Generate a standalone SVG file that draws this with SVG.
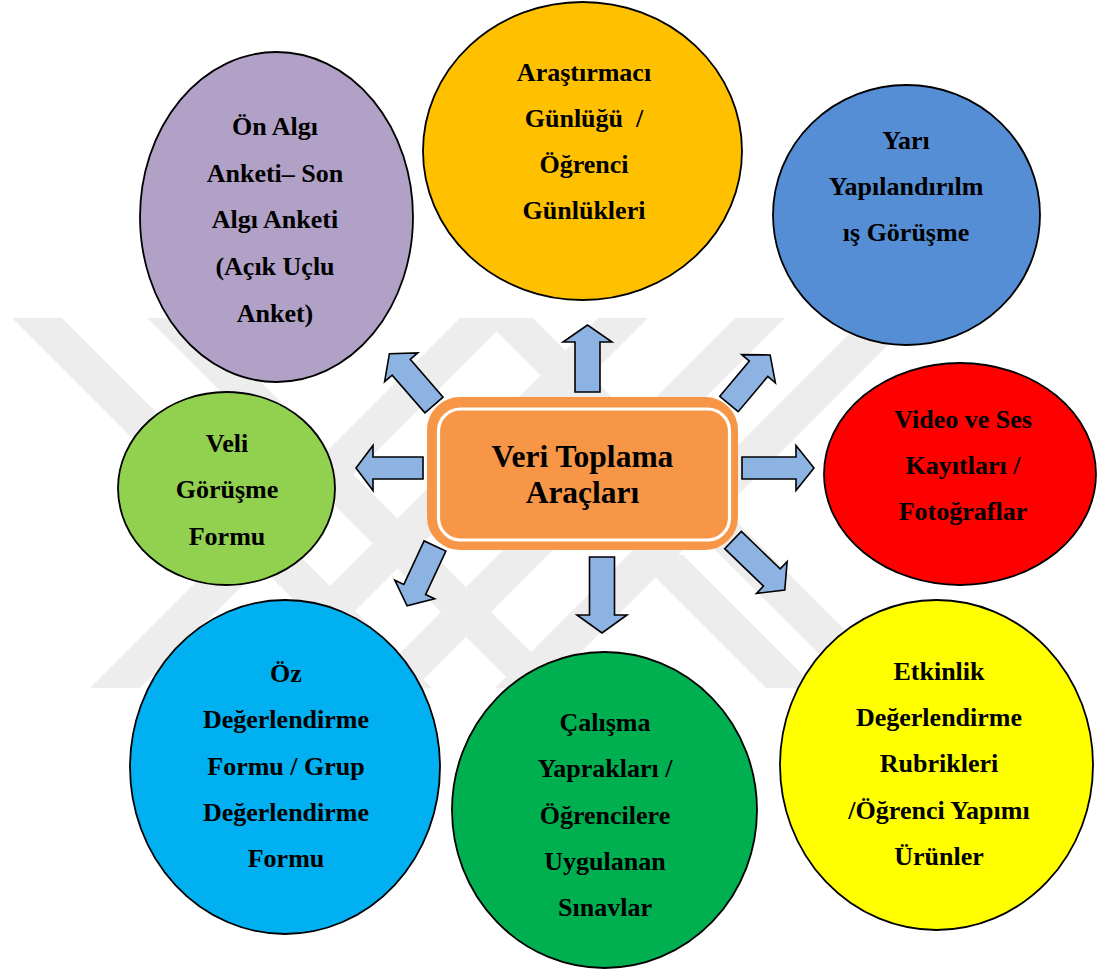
<svg xmlns="http://www.w3.org/2000/svg" width="1099" height="971" viewBox="0 0 1099 971">
<style>
.wm{fill:#ededed}
.node{stroke:#000;stroke-width:1.8}
.t{font-family:"Liberation Serif","Times New Roman",serif;font-weight:bold;font-size:26px;fill:#000;text-anchor:middle}
.title{font-family:"Liberation Serif","Times New Roman",serif;font-weight:bold;font-size:31.5px;fill:#000;text-anchor:middle}
.arr{fill:#8DB3E2;stroke:#000;stroke-width:1.6;stroke-linejoin:miter}
</style>
<defs>
<clipPath id="wmclip"><rect x="0" y="318" width="1099" height="370"/></clipPath>
</defs>
<rect x="0" y="0" width="1099" height="971" fill="#fff"/>
<g id="watermark" clip-path="url(#wmclip)">
<polygon class="wm" points="12,318 62,318 432,688 382,688"/>
<polygon class="wm" points="147,318 197,318 567,688 517,688"/>
<polygon class="wm" points="483,318 533,318 903,688 853,688"/>
<polygon class="wm" points="460,318 510,318 140,688 90,688"/>
<polygon class="wm" points="598,318 648,318 278,688 228,688"/>
<polygon class="wm" points="735,318 785,318 415,688 365,688"/>
<polygon class="wm" points="865,318 915,318 545,688 495,688"/>
<polygon class="wm" points="633,555 683,555 816,688 766,688"/>
</g>
<g id="n-purple">
<ellipse class="node" cx="276.5" cy="217" rx="136.5" ry="165" fill="#B2A1C7"/>
<text class="t" x="275" y="135">Ön Algı</text>
<text class="t" x="275" y="182">Anketi– Son</text>
<text class="t" x="275" y="228">Algı Anketi</text>
<text class="t" x="275" y="275">(Açık Uçlu</text>
<text class="t" x="275" y="322">Anket)</text>
</g>
<g id="n-gold">
<ellipse class="node" cx="582.5" cy="151" rx="159.5" ry="149" fill="#FFC000"/>
<text class="t" x="584" y="81">Araştırmacı</text>
<text class="t" x="584" y="127" xml:space="preserve">Günlüğü  /</text>
<text class="t" x="584" y="173">Öğrenci</text>
<text class="t" x="584" y="219">Günlükleri</text>
</g>
<g id="n-blue">
<ellipse class="node" cx="906.5" cy="215" rx="133.5" ry="130" fill="#558ED5"/>
<text class="t" x="906" y="149">Yarı</text>
<text class="t" x="906" y="195">Yapılandırılm</text>
<text class="t" x="906" y="241">ış Görüşme</text>
</g>
<g id="n-red">
<ellipse class="node" cx="960" cy="474" rx="136" ry="111" fill="#FF0000"/>
<text class="t" x="963" y="428">Video ve Ses</text>
<text class="t" x="963" y="474">Kayıtları /</text>
<text class="t" x="963" y="520">Fotoğraflar</text>
</g>
<g id="n-lightgreen">
<ellipse class="node" cx="226.5" cy="488.5" rx="108.5" ry="96.5" fill="#92D050"/>
<text class="t" x="227" y="452">Veli</text>
<text class="t" x="227" y="498">Görüşme</text>
<text class="t" x="227" y="545">Formu</text>
</g>
<g id="n-cyan">
<ellipse class="node" cx="285" cy="767" rx="155" ry="167" fill="#00B0F0"/>
<text class="t" x="286" y="682">Öz</text>
<text class="t" x="286" y="728">Değerlendirme</text>
<text class="t" x="286" y="775">Formu / Grup</text>
<text class="t" x="286" y="821">Değerlendirme</text>
<text class="t" x="286" y="867">Formu</text>
</g>
<g id="n-green">
<ellipse class="node" cx="604.5" cy="810" rx="152.5" ry="158" fill="#00B050"/>
<text class="t" x="605" y="731">Çalışma</text>
<text class="t" x="605" y="777">Yaprakları /</text>
<text class="t" x="605" y="824">Öğrencilere</text>
<text class="t" x="605" y="870">Uygulanan</text>
<text class="t" x="605" y="916">Sınavlar</text>
</g>
<g id="n-yellow">
<ellipse class="node" cx="936.5" cy="765" rx="156.5" ry="165" fill="#FFFF00"/>
<text class="t" x="939" y="680">Etkinlik</text>
<text class="t" x="939" y="726">Değerlendirme</text>
<text class="t" x="939" y="772">Rubrikleri</text>
<text class="t" x="939" y="819">/Öğrenci Yapımı</text>
<text class="t" x="939" y="865">Ürünler</text>
</g>
<g id="n-center">
<rect x="432" y="402" width="301" height="143" rx="28" fill="#F79646" stroke="#F79646" stroke-width="10"/>
<rect x="438.5" y="409" width="291" height="131" rx="22" fill="none" stroke="#fff" stroke-width="3.2"/>
<text class="title" x="582.5" y="467">Veri Toplama</text>
<text class="title" x="582.5" y="503">Araçları</text>
</g>
<g id="connectors">
<polygon class="arr" transform="translate(587.5,392) rotate(-90)" points="0,-12.5 50,-12.5 50,-24.5 67,0 50,24.5 50,12.5 0,12.5"/>
<polygon class="arr" transform="translate(602,557) rotate(90)" points="0,-12.5 58,-12.5 58,-25 76,0 58,25 58,12.5 0,12.5"/>
<polygon class="arr" transform="translate(423,468) rotate(180)" points="0,-11 50,-11 50,-22.5 67,0 50,22.5 50,11 0,11"/>
<polygon class="arr" transform="translate(742,468)" points="0,-11 54,-11 54,-22.5 72,0 54,22.5 54,11 0,11"/>
<polygon class="arr" transform="translate(434,405) rotate(-131)" points="0,-12 50,-12 50,-22 68,0 50,22 50,12 0,12"/>
<polygon class="arr" transform="translate(729,404) rotate(-50)" points="0,-12 46,-12 46,-22 64,0 46,22 46,12 0,12"/>
<polygon class="arr" transform="translate(435,546) rotate(115)" points="0,-12 48,-12 48,-22 66,0 48,22 48,12 0,12"/>
<polygon class="arr" transform="translate(733,540) rotate(44)" points="0,-12 54,-12 54,-22 72,0 54,22 54,12 0,12"/>
</g>
</svg>
